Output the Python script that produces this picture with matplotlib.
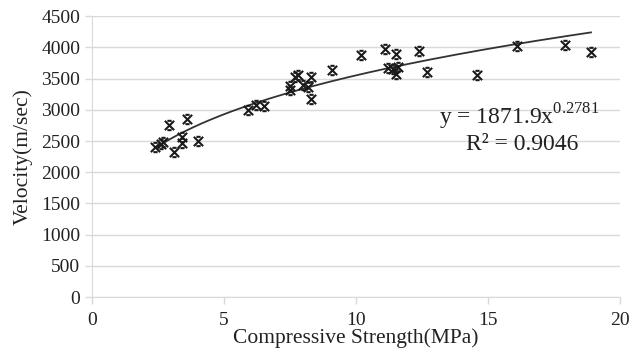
#!/usr/bin/env python3
import numpy as np
import matplotlib.pyplot as plt
from matplotlib.path import Path

plt.rc('font', family='Liberation Serif')

# compressive strength (MPa) vs pulse velocity (m/sec)
strength = [2.4, 2.6, 2.7, 2.9, 3.1, 3.4, 3.4, 3.6, 4.0,
            5.9, 6.2, 6.5, 7.5, 7.5, 7.7, 7.8, 8.0, 8.2, 8.3, 8.3,
            9.1, 10.2, 11.1, 11.2, 11.4, 11.5, 11.5, 11.6, 12.4, 12.7,
            14.6, 16.1, 17.9, 18.9]
velocity = [2400, 2450, 2480, 2760, 2320, 2470, 2570, 2850, 2500,
            3000, 3070, 3060, 3310, 3380, 3520, 3550, 3390, 3370, 3520, 3180,
            3630, 3870, 3970, 3670, 3650, 3890, 3580, 3680, 3940, 3600,
            3550, 4020, 4030, 3930]

coef_a = 1871.9
coef_b = 0.2781
r_squared = 0.9046

xticks = [0, 5, 10, 15, 20]
yticks = list(range(0, 4501, 500))

# x-shaped marker with small horizontal caps
star = Path(
    [(-1, -1), (1, 1), (-1, 1), (1, -1),
     (-0.45, 1), (0.45, 1), (-0.45, -1), (0.45, -1)],
    [Path.MOVETO, Path.LINETO, Path.MOVETO, Path.LINETO,
     Path.MOVETO, Path.LINETO, Path.MOVETO, Path.LINETO],
)


def main():
    fig = plt.figure(figsize=(6.29, 3.58), dpi=100)
    ax = fig.add_axes([0.1463, 0.170, 0.8394, 0.785])

    ax.scatter(strength, velocity, marker=star, s=45, color='#1a1a1a',
               linewidths=1.5, zorder=3)

    xs = np.linspace(min(strength), max(strength), 200)
    ax.plot(xs, coef_a * xs ** coef_b, color='#333333', lw=1.3, zorder=2)

    ax.set_xlim(0, 20)
    ax.set_ylim(0, 4500)
    ax.set_xticks(xticks)
    ax.set_yticks(yticks)
    ax.grid(axis='y', color='#d9d9d9', lw=1)
    ax.set_axisbelow(True)
    for side in ['top', 'right']:
        ax.spines[side].set_visible(False)
    for side in ['left', 'bottom']:
        ax.spines[side].set_color('#d9d9d9')
    ax.tick_params(colors='#d9d9d9', labelcolor='#222222', labelsize=14,
                   length=5, width=1)
    ax.tick_params(axis='x', pad=6)

    ax.set_xlabel('Compressive Strength(MPa)', fontsize=15.5, color='#222222',
                  labelpad=-1)
    ax.set_ylabel('Velocity(m/sec)', fontsize=15.5, color='#222222',
                  labelpad=6)

    ax.text(16.2, 2880, r'y = 1871.9x$^{\mathregular{0.2781}}$', fontsize=17,
            ha='center', va='center', color='#222222')
    ax.text(16.3, 2440, 'R² = 0.9046', fontsize=17,
            ha='center', va='center', color='#222222')

    fig.savefig('out.png', dpi=100)


if __name__ == '__main__':
    main()
